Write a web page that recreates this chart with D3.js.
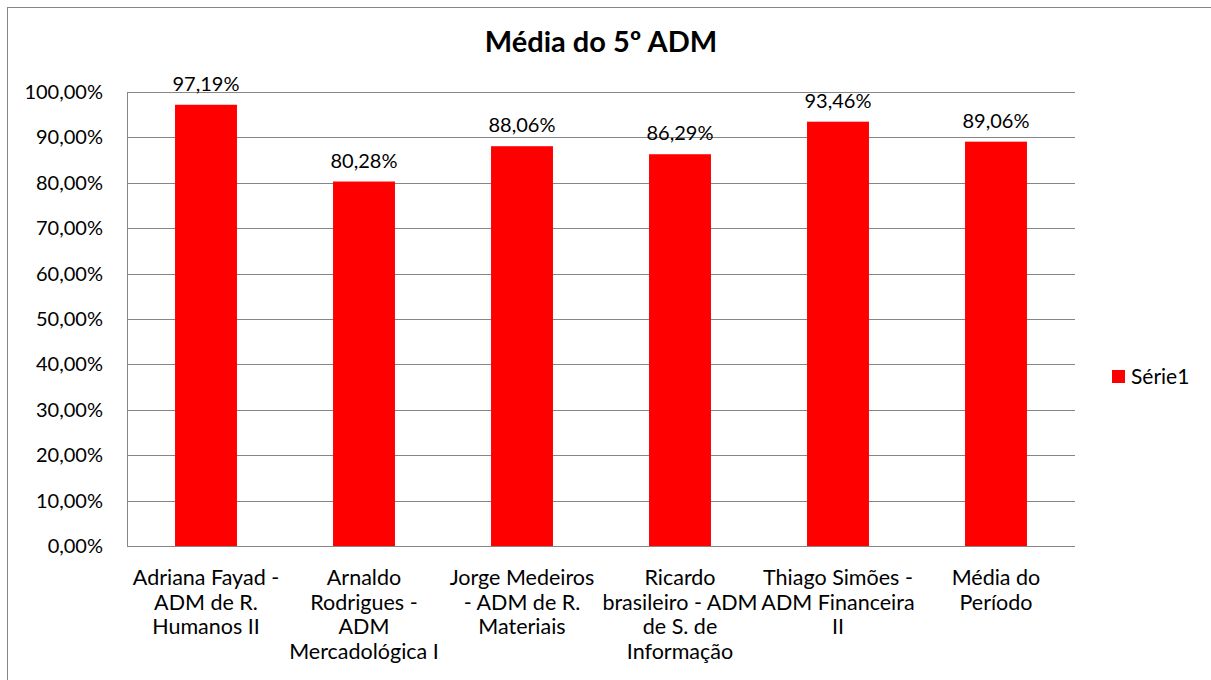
<!DOCTYPE html>
<html><head><meta charset="utf-8">
<script src="https://cdn.jsdelivr.net/npm/d3@7"></script>
<style>body{margin:0;background:#fff}svg{display:block}text{font-family:Lato,"Noto Sans",sans-serif;fill:#000}</style>
</head><body><svg id="c" width="1211" height="680"></svg>
<script>
const title = "Média do 5º ADM";
const categories = [
  ["Adriana Fayad -","ADM de R.","Humanos II"],
  ["Arnaldo","Rodrigues -","ADM","Mercadológica I"],
  ["Jorge Medeiros","- ADM de R.","Materiais"],
  ["Ricardo","brasileiro - ADM","de S. de","Informação"],
  ["Thiago Simões -","ADM Financeira","II"],
  ["Média do","Período"]
];
const values = [97.19, 80.28, 88.06, 86.29, 93.46, 89.06];
const yTicks = [0,10,20,30,40,50,60,70,80,90,100];
const seriesName = "Série1";
const color = "#ff0000";

const fmt = v => v.toFixed(2).replace(".", ",") + "%";
const svg = d3.select("#c");
svg.append("rect").attr("x",7.5).attr("y",7.5).attr("width",1220).attr("height",690)
  .attr("fill","#fff").attr("stroke","#868686").attr("stroke-width",1);

const L=127, R=1075, T=92, B=546;
const x = d3.scaleBand().domain(d3.range(categories.length)).range([L,R]).paddingInner(0.608).paddingOuter(0.304);
const y = d3.scaleLinear().domain([0,100]).range([B,T]);

svg.append("text").attr("x",601).attr("y",52).attr("text-anchor","middle")
  .attr("font-size",29).attr("font-weight","bold").text(title);

// gridlines
svg.append("g").selectAll("line").data(yTicks).join("line")
  .attr("x1",L).attr("x2",R).attr("y1",d=>Math.round(y(d))+0.5).attr("y2",d=>Math.round(y(d))+0.5)
  .attr("stroke","#868686").attr("stroke-width",1);
svg.append("line").attr("x1",L+0.5).attr("x2",L+0.5).attr("y1",T).attr("y2",B+0.5).attr("stroke","#868686");

const yAxis = svg.append("g").attr("transform",`translate(${L},0)`)
  .call(d3.axisLeft(y).tickValues(yTicks).tickFormat(d=>fmt(d)).tickSize(0).tickPadding(24));
yAxis.select(".domain").remove();
yAxis.selectAll("text").attr("font-size",20).style("font-family","Lato,'Noto Sans',sans-serif");

svg.append("g").selectAll("rect").data(values).join("rect")
  .attr("x",(d,i)=>x(i)).attr("width",x.bandwidth())
  .attr("y",d=>y(d)).attr("height",d=>B-y(d)).attr("fill",color);

svg.append("g").selectAll("text").data(values).join("text")
  .attr("x",(d,i)=>x(i)+x.bandwidth()/2).attr("y",d=>y(d)-14)
  .attr("text-anchor","middle").attr("font-size",20).text(d=>fmt(d));

const cg = svg.append("g");
categories.forEach((lines,i)=>{
  const t = cg.append("text").attr("text-anchor","middle").attr("font-size",21.5);
  lines.forEach((ln,j)=>{
    t.append("tspan").attr("x",x(i)+x.bandwidth()/2).attr("y",585+j*24.5).text(ln);
  });
});

svg.append("rect").attr("x",1112).attr("y",370).attr("width",13).attr("height",13).attr("fill",color);
svg.append("text").attr("x",1131).attr("y",384).attr("font-size",21).text(seriesName);
</script></body></html>
